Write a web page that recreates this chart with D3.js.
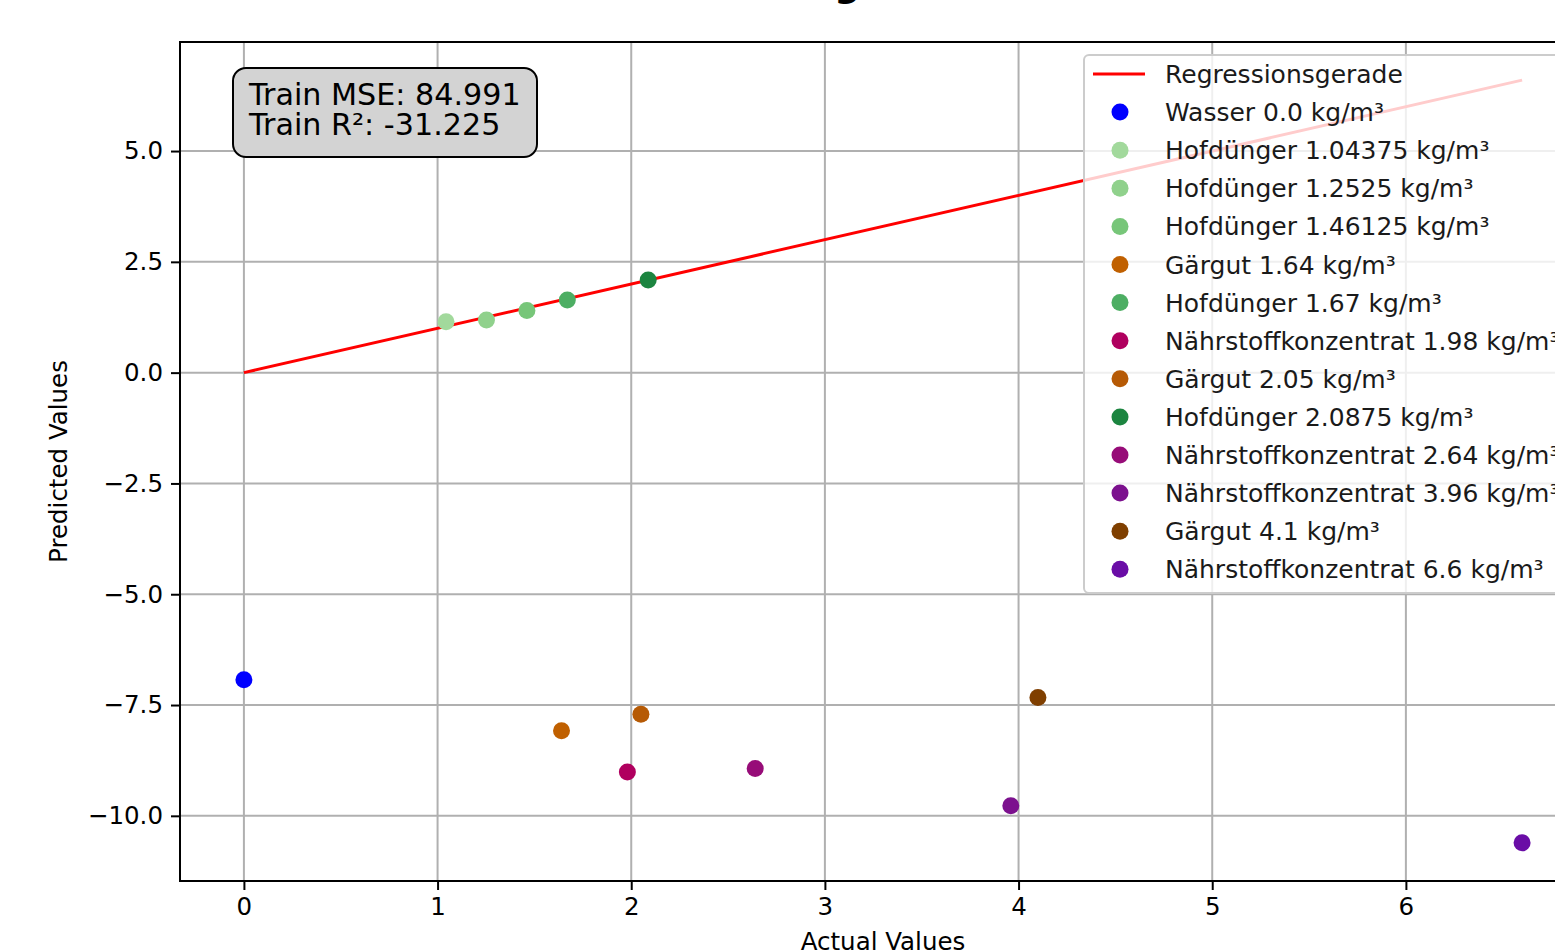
<!DOCTYPE html>
<html>
<head>
<meta charset="utf-8">
<script src="https://cdn.jsdelivr.net/npm/d3@7"></script>
<style>
  html, body { margin: 0; padding: 0; background: #fff; overflow: hidden; }
  svg { display: block; font-family: "DejaVu Sans", sans-serif; }
</style>
</head>
<body>
<svg id="chart" width="1555" height="952"></svg>
<script>
// ---- data ----
const labels = [
  "Wasser 0.0 kg/m³",
  "Hofdünger 1.04375 kg/m³",
  "Hofdünger 1.2525 kg/m³",
  "Hofdünger 1.46125 kg/m³",
  "Gärgut 1.64 kg/m³",
  "Hofdünger 1.67 kg/m³",
  "Nährstoffkonzentrat 1.98 kg/m³",
  "Gärgut 2.05 kg/m³",
  "Hofdünger 2.0875 kg/m³",
  "Nährstoffkonzentrat 2.64 kg/m³",
  "Nährstoffkonzentrat 3.96 kg/m³",
  "Gärgut 4.1 kg/m³",
  "Nährstoffkonzentrat 6.6 kg/m³"
];
const actualValues = [0.0, 1.04375, 1.2525, 1.46125, 1.64, 1.67, 1.98, 2.05, 2.0875, 2.64, 3.96, 4.1, 6.6];
const predictedValues = [-6.93, 1.15, 1.19, 1.40, -8.08, 1.64, -9.01, -7.71, 2.09, -8.93, -9.77, -7.33, -10.61];
const pointColors = ["#0000ff", "#a2d99c", "#90d18c", "#77c679", "#c06000", "#4dae63",
                     "#b0005f", "#b65a05", "#1c8540", "#970c78", "#7c118e", "#7f3f00", "#6a0da6"];
const lineX = [0.0, 6.6];
const lineY = [0.0, 6.6];
const lineLabel = "Regressionsgerade";
const xTicks = [0, 1, 2, 3, 4, 5, 6];
const yTicks = [-10, -7.5, -5, -2.5, 0, 2.5, 5];
const statsLines = ["Train MSE: 84.991", "Train R²: -31.225"];
const titleText = "Regression";
const xLabel = "Actual Values";
const yLabel = "Predicted Values";

// ---- layout ----
const svg = d3.select("#chart");
const pL = 180, pR = 1586, pT = 42, pB = 881;
const fs = 25;

function padded(vals) {
  const lo = d3.min(vals), hi = d3.max(vals), m = (hi - lo) * 0.05;
  return [lo - m, hi + m];
}
const x = d3.scaleLinear().domain(padded(actualValues.concat(lineX))).range([pL, pR]);
const y = d3.scaleLinear().domain(padded(predictedValues.concat(lineY))).range([pB, pT]);

const fmtY = v => d3.format(".1f")(v).replace("-", "−");

// clip
svg.append("defs").append("clipPath").attr("id", "plotclip")
  .append("rect").attr("x", pL).attr("y", pT).attr("width", pR - pL).attr("height", pB - pT);

// grid
const grid = svg.append("g").attr("clip-path", "url(#plotclip)");
grid.selectAll(".gx").data(xTicks).join("line")
  .attr("x1", d => x(d)).attr("x2", d => x(d)).attr("y1", pT).attr("y2", pB)
  .attr("stroke", "#b0b0b0").attr("stroke-width", 2);
grid.selectAll(".gy").data(yTicks).join("line")
  .attr("y1", d => y(d)).attr("y2", d => y(d)).attr("x1", pL).attr("x2", pR)
  .attr("stroke", "#b0b0b0").attr("stroke-width", 2);

// axes
const xAxis = d3.axisBottom(x).tickValues(xTicks).tickSize(9).tickPadding(8).tickFormat(d3.format("d"));
const yAxis = d3.axisLeft(y).tickValues(yTicks).tickSize(9).tickPadding(8).tickFormat(fmtY);
const gx = svg.append("g").attr("transform", `translate(0,${pB})`).call(xAxis);
const gy = svg.append("g").attr("transform", `translate(${pL},0)`).call(yAxis);
[gx, gy].forEach(g => {
  g.select(".domain").remove();
  g.selectAll(".tick line").attr("stroke", "#000").attr("stroke-width", 2);
  g.selectAll(".tick text").attr("fill", "#000").attr("font-size", 24.5).attr("font-family", "DejaVu Sans");
});

// regression line
const plot = svg.append("g").attr("clip-path", "url(#plotclip)");
plot.append("path")
  .datum(d3.zip(lineX, lineY))
  .attr("d", d3.line().x(d => x(d[0])).y(d => y(d[1])))
  .attr("stroke", "#ff0000").attr("stroke-width", 3).attr("fill", "none");

// points
plot.selectAll(".pt").data(actualValues).join("circle")
  .attr("cx", d => x(d)).attr("cy", (d, i) => y(predictedValues[i]))
  .attr("r", 8.5).attr("fill", (d, i) => pointColors[i]);

// spines
svg.append("rect").attr("x", pL).attr("y", pT).attr("width", pR - pL).attr("height", pB - pT)
  .attr("fill", "none").attr("stroke", "#000").attr("stroke-width", 2);

// stats box
const boxG = svg.append("g");
boxG.append("rect").attr("x", 233).attr("y", 68).attr("width", 304).attr("height", 89)
  .attr("rx", 13).attr("ry", 13).attr("fill", "#d3d3d3").attr("stroke", "#000").attr("stroke-width", 2);
boxG.selectAll("text").data(statsLines).join("text")
  .attr("x", 249).attr("y", (d, i) => 105 + i * 30)
  .attr("font-size", 30.2).attr("fill", "#000").text(d => d);

// legend
const legX = 1084, legY = 55, rowH = 38.1;
const legG = svg.append("g");
legG.append("rect").attr("x", legX).attr("y", legY).attr("width", 520).attr("height", 538)
  .attr("rx", 5).attr("fill", "#ffffff").attr("fill-opacity", 0.8)
  .attr("stroke", "#cccccc").attr("stroke-width", 2);
legG.append("line").attr("x1", 1093).attr("x2", 1145).attr("y1", 74).attr("y2", 74)
  .attr("stroke", "#ff0000").attr("stroke-width", 3);
legG.append("text").attr("x", 1165).attr("y", 74).attr("dy", "0.36em")
  .attr("font-size", fs).attr("fill", "#1a1a1a").text(lineLabel);
labels.forEach((lab, i) => {
  const cy = 74 + (i + 1) * rowH;
  legG.append("circle").attr("cx", 1120).attr("cy", cy).attr("r", 8.5).attr("fill", pointColors[i]);
  legG.append("text").attr("x", 1165).attr("y", cy).attr("dy", "0.36em")
    .attr("font-size", fs).attr("fill", "#1a1a1a").text(lab);
});

// labels
svg.append("text").attr("x", (pL + pR) / 2).attr("y", 950)
  .attr("text-anchor", "middle").attr("font-size", 24.5).attr("fill", "#000").text(xLabel);
svg.append("text").attr("transform", `translate(67,${(pT + pB) / 2}) rotate(-90)`)
  .attr("text-anchor", "middle").attr("font-size", 24.5).attr("fill", "#000").text(yLabel);
svg.append("text").attr("x", (pL + pR) / 2 + 12).attr("y", -3)
  .attr("text-anchor", "middle").attr("font-size", 36).attr("font-weight", "bold")
  .attr("fill", "#000").text(titleText);
</script>
</body>
</html>
